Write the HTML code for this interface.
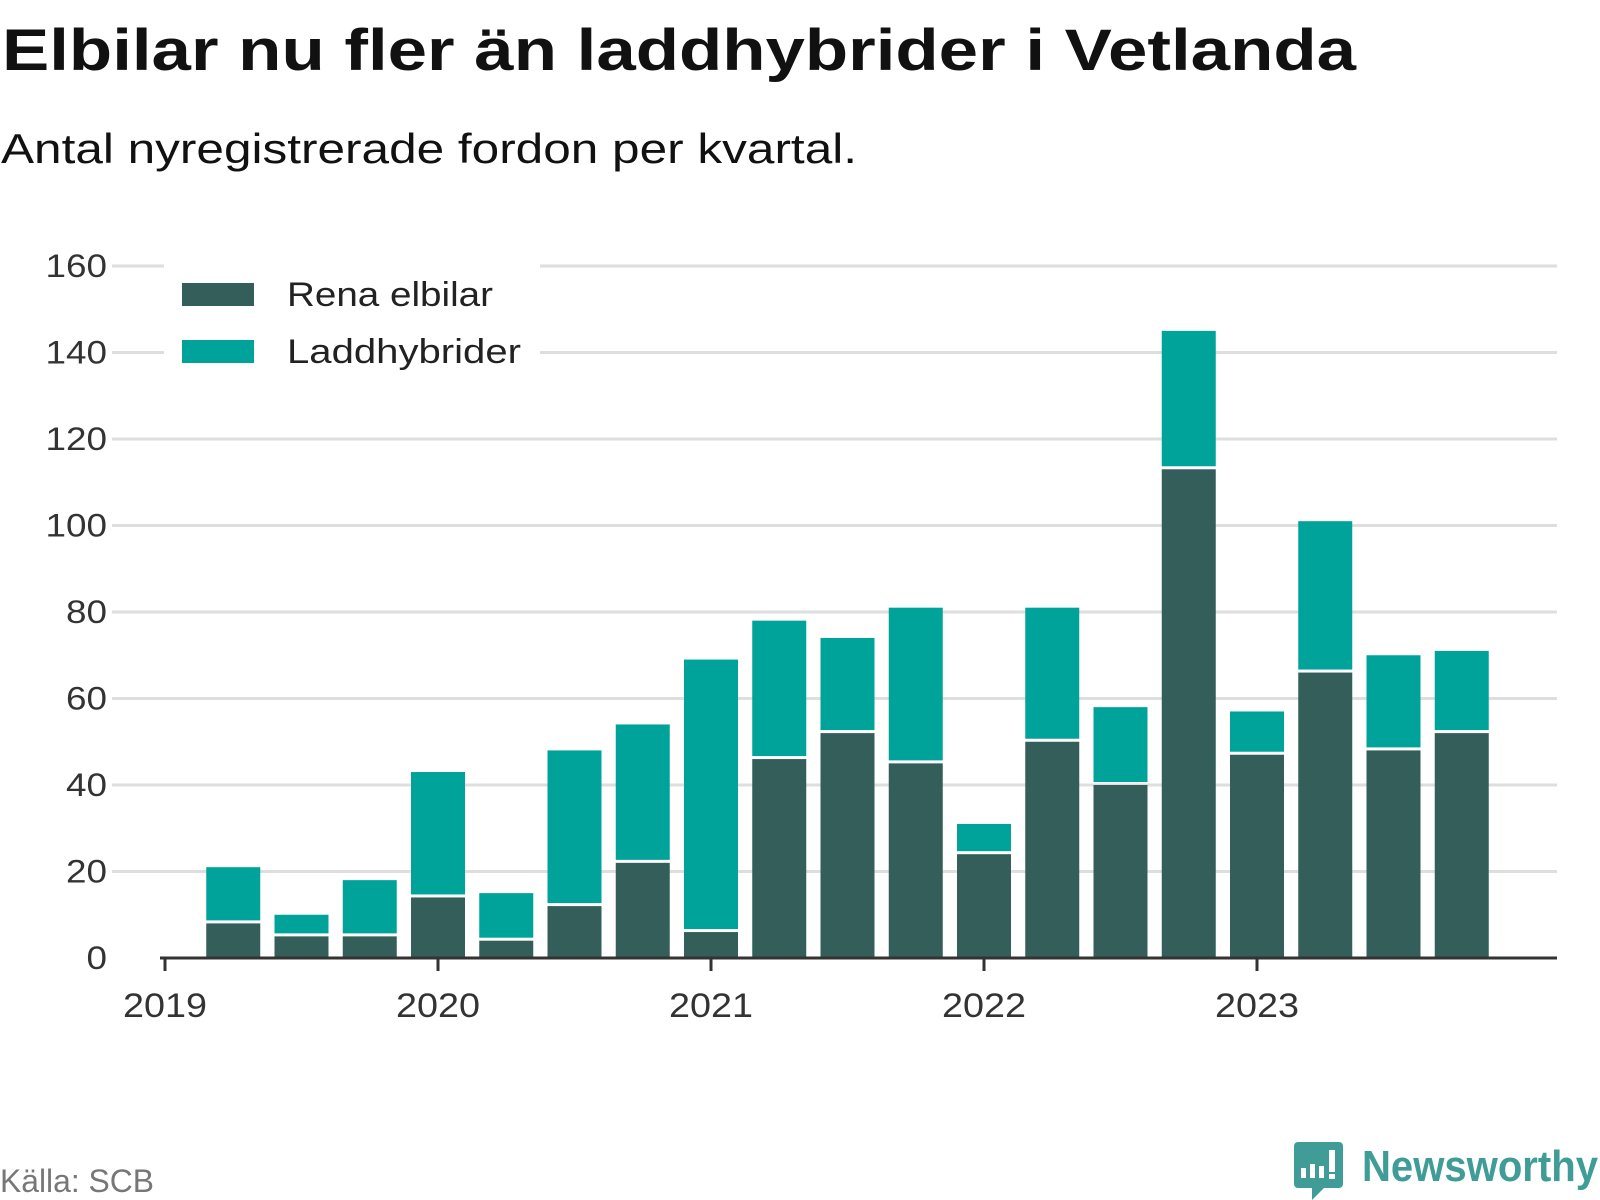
<!DOCTYPE html>
<html><head><meta charset="utf-8"><style>
body{margin:0;background:#fff;}
svg{display:block;font-family:"Liberation Sans","DejaVu Sans",sans-serif;}
</style></head><body>
<svg id="chart" width="1600" height="1200">
<text x="2" y="70" font-size="58" font-weight="bold" fill="#111" textLength="1354" lengthAdjust="spacingAndGlyphs">Elbilar nu fler än laddhybrider i Vetlanda</text>
<text x="1" y="163" font-size="42" fill="#111" textLength="856" lengthAdjust="spacingAndGlyphs">Antal nyregistrerade fordon per kvartal.</text>
<g id="grid"></g>
<g id="bars"></g>
<g id="axes"></g>
<g>
<rect x="164" y="255" width="376" height="115" fill="#fff"/>
<rect x="182" y="283" width="72" height="23" fill="#345e5a"/>
<text x="287" y="306" font-size="34" fill="#222" textLength="206" lengthAdjust="spacingAndGlyphs">Rena elbilar</text>
<rect x="182" y="340" width="72" height="23" fill="#00a39a"/>
<text x="287" y="363" font-size="34" fill="#222" textLength="234" lengthAdjust="spacingAndGlyphs">Laddhybrider</text>
</g>
<text x="0" y="1192" font-size="32" fill="#777" textLength="154" lengthAdjust="spacingAndGlyphs">Källa: SCB</text>
<g>
<path d="M1298 1142 h41 a4 4 0 0 1 4 4 v38 a4 4 0 0 1 -4 4 h-15 l-12 12 v-12 h-14 a4 4 0 0 1 -4 -4 v-38 a4 4 0 0 1 4 -4z" fill="#3f9c96"/>
<rect x="1301" y="1168" width="5" height="10" fill="#fff"/>
<rect x="1310" y="1164" width="5" height="14" fill="#fff"/>
<rect x="1319" y="1166" width="5" height="12" fill="#fff"/>
<rect x="1329" y="1150" width="6" height="22" fill="#fff"/>
<rect x="1329" y="1174" width="6" height="5" fill="#fff"/>
<text x="1362" y="1181" font-size="44" font-weight="bold" fill="#3f9c96" textLength="236" lengthAdjust="spacingAndGlyphs">Newsworthy</text>
</g>
</svg>
<script>
const quarters = ["2019Q2","2019Q3","2019Q4","2020Q1","2020Q2","2020Q3","2020Q4","2021Q1","2021Q2","2021Q3","2021Q4","2022Q1","2022Q2","2022Q3","2022Q4","2023Q1","2023Q2","2023Q3","2023Q4"];
const elbilar = [8,5,5,14,4,12,22,6,46,52,45,24,50,40,113,47,66,48,52];
const laddhybrider = [13,5,13,29,11,36,32,63,32,22,36,7,31,18,32,10,35,22,19];
const yTicks = [0,20,40,60,80,100,120,140,160];
const xYears = [2019,2020,2021,2022,2023];

const NS="http://www.w3.org/2000/svg";
const y0=958, yTop=266, yMax=160;
const ys=v=>y0-(y0-yTop)*v/yMax;
const x2019=165, yearW=273;
const xq=i=>x2019+yearW/4*(i+1);
const bw=54;
function mk(tag,attrs,parent){const e=document.createElementNS(NS,tag);for(const k in attrs)e.setAttribute(k,attrs[k]);parent.appendChild(e);return e;}
const grid=document.getElementById('grid'),bars=document.getElementById('bars'),axes=document.getElementById('axes');
yTicks.forEach(t=>{
  if(t>0){const l=mk('line',{x1:112,x2:1557,y1:ys(t),y2:ys(t),stroke:'#dedede','stroke-width':3},grid);
  
  }
  const s=String(t);
  const tx=mk('text',{x:107,y:ys(t)+11,'font-size':32,fill:'#333','text-anchor':'end',textLength:20.5*s.length,lengthAdjust:'spacingAndGlyphs'},axes);
  tx.textContent=s;
  
  
});
quarters.forEach((q,i)=>{
  const x=xq(i)-bw/2;
  const e=elbilar[i], p=laddhybrider[i];
  const r1=mk('rect',{x:x,y:ys(e),width:bw,height:y0-ys(e),fill:'#345e5a'},bars);
  
  
  const r2=mk('rect',{x:x,y:ys(e+p),width:bw,height:Math.max(0,ys(e)-ys(e+p)-3),fill:'#00a39a'},bars);
  
  
});
const ax=mk('line',{x1:x2019-5,x2:1557,y1:y0,y2:y0,stroke:'#333','stroke-width':3},axes);


xYears.forEach((yr,i)=>{
  const x=x2019+yearW*i;
  const tk=mk('line',{x1:x,x2:x,y1:y0,y2:y0+13,stroke:'#333','stroke-width':3},axes);
  
  
  const tx=mk('text',{x:x,y:1017,'font-size':34,fill:'#333','text-anchor':'middle',textLength:84,lengthAdjust:'spacingAndGlyphs'},axes);
  tx.textContent=yr;
  
  
});
</script>
</body></html>
